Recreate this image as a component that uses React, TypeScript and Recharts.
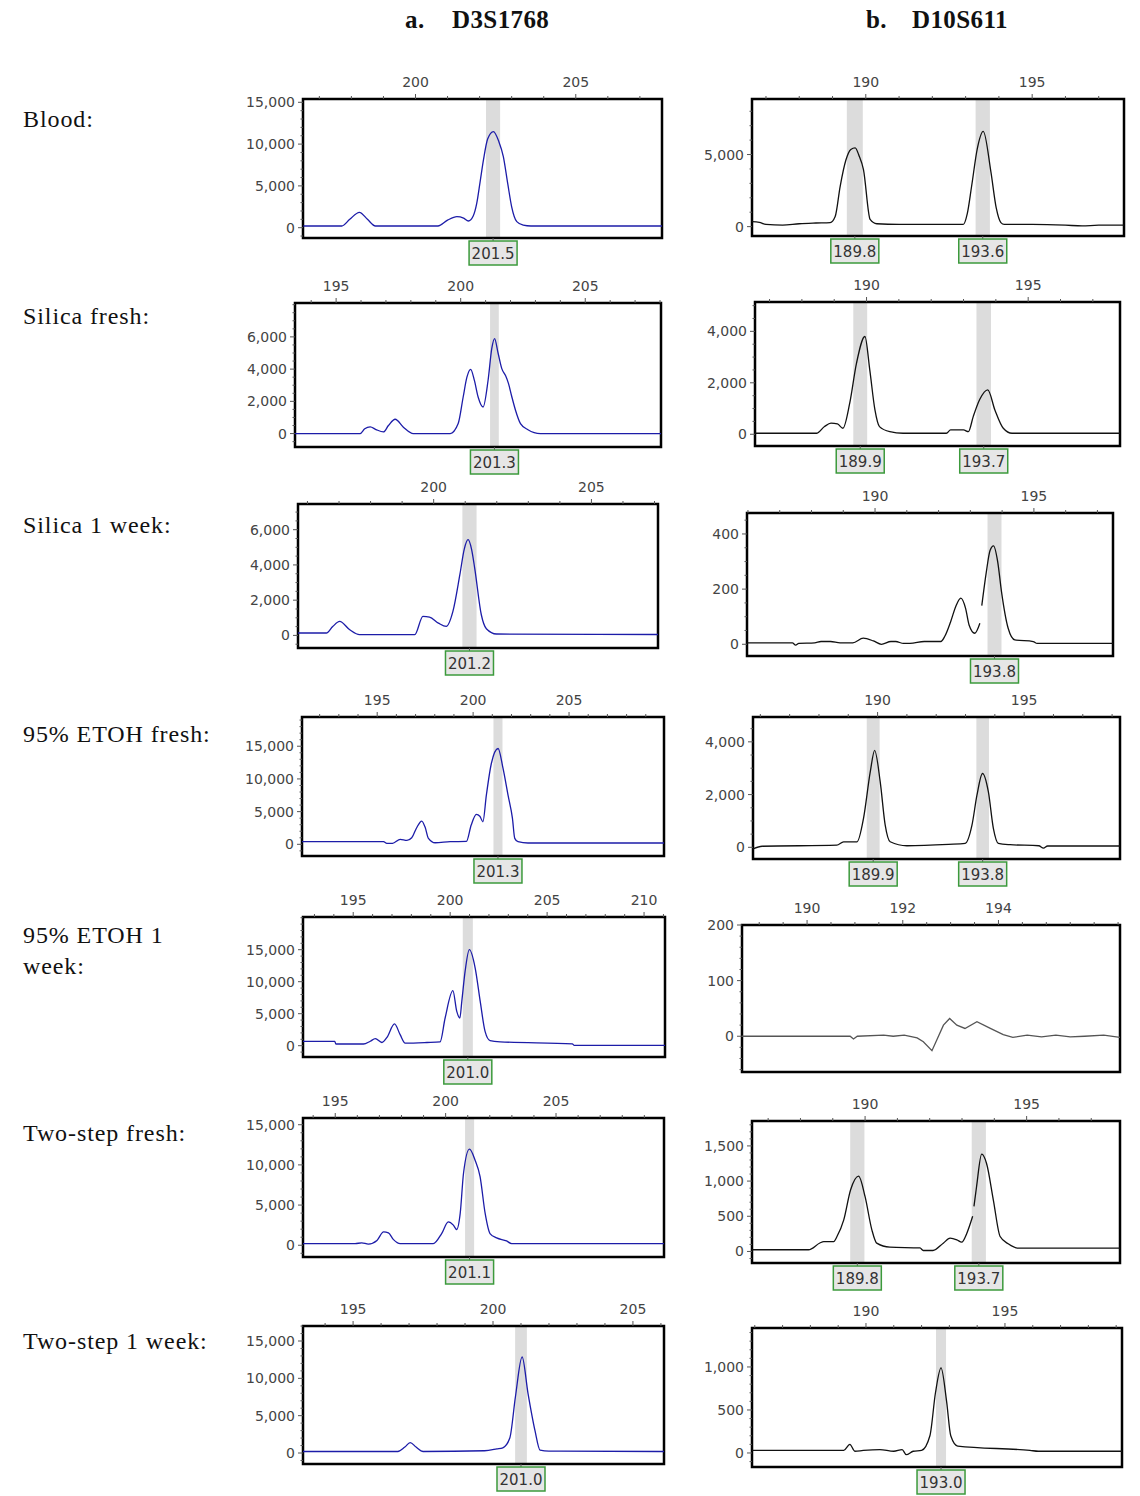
import React from 'react';
import { LineChart, Line, XAxis, YAxis, ReferenceArea, ReferenceDot } from 'recharts';

// ---------- Titles & row labels ----------
const columnTitles = [
  { letter: 'a.', marker: 'D3S1768' },
  { letter: 'b.', marker: 'D10S611' },
];
const rowLabels = ['Blood:', 'Silica fresh:', 'Silica 1 week:', '95% ETOH fresh:', '95% ETOH 1\nweek:', 'Two-step fresh:', 'Two-step 1 week:'];

// ---------- Traces (size in bp, signal in RFU) ----------
const bloodA_size = [196.5, 197.7, 197.95, 198.25, 198.5, 198.75, 200.7, 201.0, 201.29, 201.5, 201.65, 201.8, 201.91, 202.02, 202.12, 202.25, 202.43, 202.6, 202.74, 202.88, 203.0, 203.16, 203.36, 203.6, 207.7];
const bloodA_rfu = [200, 200, 1000, 1840, 1000, 200, 200, 900, 1320, 1150, 800, 1400, 2900, 5600, 8100, 10600, 11490, 10300, 8500, 5200, 2500, 720, 300, 200, 200];

const bloodB_size = [186.58, 186.8, 187.0, 187.5, 188.0, 188.5, 188.93, 189.08, 189.23, 189.4, 189.55, 189.68, 189.8, 189.93, 190.13, 190.33, 191.0, 192.0, 192.93, 193.05, 193.18, 193.35, 193.53, 193.76, 193.92, 194.06, 194.16, 195.0, 196.0, 196.5, 197.0, 197.76];
const bloodB_rfu = [350, 300, 150, 100, 200, 250, 280, 700, 2800, 4600, 5350, 5463, 4900, 3960, 500, 200, 150, 150, 150, 900, 2800, 5400, 6611, 3800, 1300, 280, 150, 150, 100, 50, 100, 100];

const silicaFreshA_size = [193.35, 195.96, 196.15, 196.37, 196.6, 196.9, 197.1, 197.37, 197.7, 198.1, 199.58, 199.9, 200.1, 200.25, 200.4, 200.55, 200.7, 200.9, 201.1, 201.25, 201.36, 201.5, 201.65, 201.8, 201.92, 202.05, 202.2, 202.4, 202.7, 203.2, 208.04];
const silicaFreshA_rfu = [0, 0, 300, 414, 250, 100, 500, 890, 400, 0, 0, 620, 2270, 3500, 3990, 3300, 2270, 1650, 3310, 5300, 5895, 5000, 4030, 3600, 3100, 2300, 1450, 620, 240, 0, 0];

const silicaFreshB_size = [186.55, 188.45, 188.7, 188.9, 189.1, 189.27, 189.48, 189.69, 189.95, 190.1, 190.26, 190.4, 190.72, 191.13, 192.47, 192.6, 193.0, 193.15, 193.3, 193.5, 193.75, 193.97, 194.23, 194.5, 197.84];
const silicaFreshB_rfu = [40, 40, 300, 430, 400, 234, 1207, 2765, 3800, 2504, 946, 296, 100, 40, 40, 167, 167, 100, 686, 1350, 1726, 946, 234, 40, 40];

const silicaWeekA_size = [195.7, 196.6, 196.8, 197.02, 197.34, 197.65, 199.4, 199.66, 199.87, 200.15, 200.4, 200.61, 200.83, 200.97, 201.09, 201.2, 201.3, 201.51, 201.67, 201.99, 207.11];
const silicaWeekA_rfu = [136, 136, 500, 795, 323, 40, 40, 1079, 1040, 700, 511, 1362, 3445, 4900, 5432, 4900, 3822, 1173, 380, 80, 50];

const silicaWeekB_size = [185.97, 187.4, 187.5, 187.6, 188.1, 188.3, 188.6, 188.9, 189.3, 189.63, 189.95, 190.2, 190.5, 190.65, 190.9, 191.1, 191.55, 191.9, 192.07, 192.2, 192.38, 192.55, 192.7, 192.85, 192.96, 193.14, 193.3, 193.33, 193.36, 193.5, 193.62, 193.73, 193.86, 193.98, 194.19, 194.4, 194.98, 195.1, 197.49];
const silicaWeekB_rfu = [5, 5, -3, 3, 5, 10, 10, 5, 5, 22, 12, 0, 10, 10, 3, 3, 10, 10, 10, 30, 82, 140, 167, 130, 70, 40, 76, null, 140, 260, 340, 357, 300, 191, 58, 16, 10, 3, 3];

const etohFreshA_size = [191.08, 195.33, 195.5, 195.8, 196.2, 196.55, 196.8, 197.05, 197.32, 197.5, 197.67, 198.02, 198.8, 199.65, 199.9, 200.17, 200.35, 200.51, 200.69, 200.95, 201.3, 201.56, 201.82, 202.05, 202.17, 202.34, 202.86, 209.95];
const etohFreshA_rfu = [400, 400, 150, 150, 760, 600, 1000, 2500, 3560, 2600, 915, 240, 400, 450, 2950, 4580, 4300, 3450, 7520, 12360, 14650, 11600, 7520, 3970, 915, 400, 200, 200];

const etohFreshB_size = [185.75, 186.06, 188.61, 188.84, 189.3, 189.52, 189.75, 189.9, 190.09, 190.26, 190.43, 191.0, 192.42, 192.99, 193.22, 193.39, 193.58, 193.78, 193.95, 194.12, 194.52, 195.5, 195.66, 195.8, 198.27];
const etohFreshB_rfu = [-60, 40, 80, 210, 210, 1100, 2860, 3680, 2480, 840, 210, 60, 113, 150, 840, 1975, 2800, 2100, 720, 150, 100, 60, -30, 50, 50];

const etohWeekA_size = [192.41, 194.05, 194.1, 195.53, 195.88, 196.14, 196.48, 196.74, 197.13, 197.42, 197.68, 198.8, 199.48, 199.74, 200.14, 200.34, 200.5, 200.6, 200.77, 200.99, 201.29, 201.55, 201.8, 202.06, 202.58, 206.3, 206.4, 211.08];
const etohWeekA_rfu = [670, 670, 265, 265, 700, 1090, 500, 1300, 3400, 1720, 400, 500, 600, 4330, 8590, 5360, 4330, 6920, 11600, 15000, 12140, 6920, 2230, 780, 600, 300, 50, 50];

const etohWeekB_size = [188.64, 190.9, 190.97, 191.05, 191.6, 191.8, 192.03, 192.3, 192.43, 192.61, 192.85, 192.98, 193.13, 193.3, 193.55, 193.83, 194.1, 194.3, 194.6, 194.9, 195.2, 195.5, 195.8, 196.2, 196.54];
const etohWeekB_rfu = [0, 0, -5, 0, 2, 0, 2, -3, -10, -26, 20, 32, 20, 14, 26, 14, 3, -2, 2, -1, 2, -1, 0, 2, -2];

const twoStepFreshA_size = [193.54, 195.9, 196.2, 196.5, 196.89, 197.19, 197.41, 197.64, 197.94, 199.44, 199.82, 200.12, 200.35, 200.5, 200.66, 200.81, 201.08, 201.33, 201.56, 201.79, 202.01, 202.31, 202.76, 202.99, 209.89];
const twoStepFreshA_rfu = [200, 200, 300, 150, 600, 1660, 1540, 700, 200, 200, 1460, 2910, 2500, 1960, 3960, 8960, 11960, 10620, 8540, 3960, 1460, 920, 540, 200, 200];

const twoStepFreshB_size = [186.5, 188.25, 188.6, 188.72, 189.03, 189.13, 189.34, 189.55, 189.8, 190.0, 190.21, 190.36, 190.77, 191.7, 191.8, 192.1, 192.42, 192.63, 192.84, 192.99, 193.15, 193.33, 193.35, 193.37, 193.45, 193.61, 193.76, 193.97, 194.18, 194.43, 194.74, 197.89];
const twoStepFreshB_rfu = [24, 24, 120, 141, 141, 212, 448, 873, 1071, 778, 307, 118, 61, 50, 14, 14, 118, 189, 165, 132, 260, 500, null, 640, 920, 1382, 1250, 731, 212, 109, 47, 47];

const twoStepWeekA_size = [193.21, 196.6, 196.85, 197.04, 197.25, 197.5, 199.7, 200.14, 200.35, 200.6, 200.8, 201.04, 201.25, 201.5, 201.68, 202.0, 206.11];
const twoStepWeekA_rfu = [200, 200, 800, 1400, 800, 200, 300, 550, 700, 2000, 7500, 12860, 8000, 3000, 400, 250, 200];

const twoStepWeekB_size = [185.9, 189.2, 189.42, 189.6, 189.9, 190.5, 191.0, 191.3, 191.45, 191.7, 192.0, 192.3, 192.5, 192.7, 192.9, 193.05, 193.3, 195.9, 196.2, 199.21];
const twoStepWeekB_rfu = [30, 30, 100, 20, 30, 40, 20, 40, -20, 20, 30, 200, 700, 990, 600, 200, 80, 30, 20, 20];

// ---------- Allele calls (bin ranges in bp, called size label) ----------
const bloodA_bins = [{ lo: 202.2, hi: 202.64, label: '201.5' }];
const bloodB_bins = [{ lo: 189.43, hi: 189.91, label: '189.8' }, { lo: 193.3, hi: 193.73, label: '193.6' }];
const silicaFreshA_bins = [{ lo: 201.18, hi: 201.53, label: '201.3' }];
const silicaFreshB_bins = [{ lo: 189.59, hi: 190.02, label: '189.9' }, { lo: 193.4, hi: 193.85, label: '193.7' }];
const silicaWeekA_bins = [{ lo: 200.91, hi: 201.36, label: '201.2' }];
const silicaWeekB_bins = [{ lo: 193.54, hi: 193.98, label: '193.8' }];
const etohFreshA_bins = [{ lo: 201.06, hi: 201.53, label: '201.3' }];
const etohFreshB_bins = [{ lo: 189.63, hi: 190.07, label: '189.9' }, { lo: 193.37, hi: 193.8, label: '193.8' }];
const etohWeekA_bins = [{ lo: 200.65, hi: 201.17, label: '201.0' }];
const etohWeekB_bins: { lo: number; hi: number; label: string }[] = [];
const twoStepFreshA_bins = [{ lo: 200.88, hi: 201.29, label: '201.1' }];
const twoStepFreshB_bins = [{ lo: 189.54, hi: 189.98, label: '189.8' }, { lo: 193.3, hi: 193.74, label: '193.7' }];
const twoStepWeekA_bins = [{ lo: 200.79, hi: 201.21, label: '201.0' }];
const twoStepWeekB_bins = [{ lo: 192.52, hi: 192.88, label: '193.0' }];

// ---------- Axis tick labels ----------
const xLabelsA1 = [200, 205];
const xLabelsA2 = [195, 200, 205];
const xLabelsA5 = [195, 200, 205, 210];
const xLabelsB = [190, 195];
const xLabelsB5 = [190, 192, 194];
const yLabels15k = [0, 5000, 10000, 15000];
const yLabels6k = [0, 2000, 4000, 6000];
const yLabels4k = [0, 2000, 4000];
const yLabels5k = [0, 5000];
const yLabels400 = [0, 200, 400];
const yLabels200 = [0, 100, 200];
const yLabels1500 = [0, 500, 1000, 1500];
const yLabels1000 = [0, 500, 1000];

const BLUE = '#1c1ca8';
const BLACK = '#111111';
const GRAY = '#555555';

type Bin = { lo: number; hi: number; label: string };
type Panel = {
  left: number; top: number; w: number; h: number;
  xDomain: [number, number]; yDomain: [number, number];
  xMajor: number[]; xMinor: number; yMajor: number[]; yMinor: number;
  sizes: number[]; values: (number | null)[]; bins: Bin[];
  color: string; curve: 'monotone' | 'linear';
};

const panels: Panel[] = [
  { left: 303, top: 99, w: 359, h: 139, xDomain: [196.49, 207.69], yDomain: [-1233, 15395], xMajor: xLabelsA1, xMinor: 1, yMajor: yLabels15k, yMinor: 1000, sizes: bloodA_size, values: bloodA_rfu, bins: bloodA_bins, color: BLUE, curve: 'monotone' },
  { left: 752, top: 99, w: 372, h: 137, xDomain: [186.58, 197.76], yDomain: [-650, 8852], xMajor: xLabelsB, xMinor: 1, yMajor: yLabels5k, yMinor: 1000, sizes: bloodB_size, values: bloodB_rfu, bins: bloodB_bins, color: BLACK, curve: 'monotone' },
  { left: 295, top: 303, w: 366, h: 144, xDomain: [193.35, 208.04], yDomain: [-833, 8103], xMajor: xLabelsA2, xMinor: 1, yMajor: yLabels6k, yMinor: 500, sizes: silicaFreshA_size, values: silicaFreshA_rfu, bins: silicaFreshA_bins, color: BLUE, curve: 'monotone' },
  { left: 755, top: 302, w: 365, h: 144, xDomain: [186.55, 197.84], yDomain: [-456, 5141], xMajor: xLabelsB, xMinor: 1, yMajor: yLabels4k, yMinor: 500, sizes: silicaFreshB_size, values: silicaFreshB_rfu, bins: silicaFreshB_bins, color: BLACK, curve: 'monotone' },
  { left: 298, top: 504, w: 360, h: 144, xDomain: [195.7, 207.11], yDomain: [-715, 7459], xMajor: xLabelsA1, xMinor: 1, yMajor: yLabels6k, yMinor: 500, sizes: silicaWeekA_size, values: silicaWeekA_rfu, bins: silicaWeekA_bins, color: BLUE, curve: 'monotone' },
  { left: 747, top: 513, w: 366, h: 143, xDomain: [185.97, 197.49], yDomain: [-42.5, 476], xMajor: xLabelsB, xMinor: 1, yMajor: yLabels400, yMinor: 50, sizes: silicaWeekB_size, values: silicaWeekB_rfu, bins: silicaWeekB_bins, color: BLACK, curve: 'monotone' },
  { left: 302, top: 717, w: 362, h: 139, xDomain: [191.08, 209.95], yDomain: [-1785, 19470], xMajor: xLabelsA2, xMinor: 1, yMajor: yLabels15k, yMinor: 1000, sizes: etohFreshA_size, values: etohFreshA_rfu, bins: etohFreshA_bins, color: BLUE, curve: 'monotone' },
  { left: 753, top: 717, w: 367, h: 142, xDomain: [185.75, 198.27], yDomain: [-443, 4942], xMajor: xLabelsB, xMinor: 1, yMajor: yLabels4k, yMinor: 500, sizes: etohFreshB_size, values: etohFreshB_rfu, bins: etohFreshB_bins, color: BLACK, curve: 'monotone' },
  { left: 303, top: 917, w: 362, h: 140, xDomain: [192.41, 211.08], yDomain: [-1766, 20110], xMajor: xLabelsA5, xMinor: 1, yMajor: yLabels15k, yMinor: 1000, sizes: etohWeekA_size, values: etohWeekA_rfu, bins: etohWeekA_bins, color: BLUE, curve: 'monotone' },
  { left: 742, top: 925, w: 378, h: 147, xDomain: [188.64, 196.54], yDomain: [-64.3, 200], xMajor: xLabelsB5, xMinor: 0.5, yMajor: yLabels200, yMinor: 20, sizes: etohWeekB_size, values: etohWeekB_rfu, bins: etohWeekB_bins, color: GRAY, curve: 'linear' },
  { left: 303, top: 1118, w: 361, h: 139, xDomain: [193.54, 209.89], yDomain: [-1462, 15837], xMajor: xLabelsA2, xMinor: 1, yMajor: yLabels15k, yMinor: 1000, sizes: twoStepFreshA_size, values: twoStepFreshA_rfu, bins: twoStepFreshA_bins, color: BLUE, curve: 'monotone' },
  { left: 752, top: 1121, w: 368, h: 142, xDomain: [186.5, 197.89], yDomain: [-164, 1854], xMajor: xLabelsB, xMinor: 1, yMajor: yLabels1500, yMinor: 100, sizes: twoStepFreshB_size, values: twoStepFreshB_rfu, bins: twoStepFreshB_bins, color: BLACK, curve: 'monotone' },
  { left: 303, top: 1326, w: 361, h: 138, xDomain: [193.21, 206.11], yDomain: [-1473, 17009], xMajor: xLabelsA2, xMinor: 1, yMajor: yLabels15k, yMinor: 1000, sizes: twoStepWeekA_size, values: twoStepWeekA_rfu, bins: twoStepWeekA_bins, color: BLUE, curve: 'monotone' },
  { left: 752, top: 1328, w: 370, h: 139, xDomain: [185.9, 199.21], yDomain: [-163, 1453], xMajor: xLabelsB, xMinor: 1, yMajor: yLabels1000, yMinor: 100, sizes: twoStepWeekB_size, values: twoStepWeekB_rfu, bins: twoStepWeekB_bins, color: BLACK, curve: 'monotone' },
];

const rowLabelTops = [119, 316, 525, 734, 935, 1133, 1341];

const TICK_FONT = '"DejaVu Sans", Verdana, sans-serif';
const TICK_COLOR = '#444';

function tickList(domain: [number, number], step: number): number[] {
  const out: number[] = [];
  const start = Math.ceil(domain[0] / step - 1e-9);
  const end = Math.floor(domain[1] / step + 1e-9);
  for (let i = start; i <= end; i++) out.push(Math.round(i * step * 1000) / 1000 + 0);
  return out;
}

const isMajor = (v: number, majors: number[]) => majors.some((m) => Math.abs(m - v) < 1e-6);

function renderXTick(p: any, majors: number[]) {
  const { x, y, payload } = p;
  const major = isMajor(payload.value, majors);
  return (
    <g>
      <line x1={x} x2={x} y1={y} y2={y - (major ? 5 : 3)} stroke="#555" strokeWidth={1} />
      {major && (
        <text x={x} y={y - 12} textAnchor="middle" fontFamily={TICK_FONT} fontSize={14} fill={TICK_COLOR}>
          {payload.value}
        </text>
      )}
    </g>
  );
}

function renderYTick(p: any, majors: number[]) {
  const { x, y, payload } = p;
  const major = isMajor(payload.value, majors);
  const v = Math.abs(payload.value) < 1e-9 ? 0 : Number(payload.value);
  return (
    <g>
      <line x1={x} x2={x - (major ? 5 : 2.5)} y1={y} y2={y} stroke="#555" strokeWidth={1} />
      {major && (
        <text x={x - 8} y={y + 5} textAnchor="end" fontFamily={TICK_FONT} fontSize={14} fill={TICK_COLOR}>
          {v.toLocaleString('en-US')}
        </text>
      )}
    </g>
  );
}

function CallBox(props: any) {
  const { cx, cy, label } = props;
  const w = 48;
  const h = 24;
  return (
    <g>
      <line x1={cx} x2={cx} y1={cy} y2={cy + 3} stroke="#555" />
      <rect x={cx - w / 2} y={cy + 3} width={w} height={h} fill="#e6e6e6" stroke="#3c9a3c" strokeWidth={1.5} />
      <text x={cx} y={cy + 3 + h / 2 + 5.5} textAnchor="middle" fontFamily={TICK_FONT} fontSize={15} fill="#333">
        {label}
      </text>
    </g>
  );
}

const ML = 80;
const MT = 30;
const MR = 10;
const MB = 40;

function Trace({ panel }: { panel: Panel }) {
  const data = panel.sizes.map((s, i) => ({ s, v: panel.values[i] }));
  const xt = tickList(panel.xDomain, panel.xMinor);
  const yt = tickList(panel.yDomain, panel.yMinor);
  return (
    <div style={{ position: 'absolute', left: panel.left - ML, top: panel.top - MT }}>
      <LineChart width={ML + panel.w + MR} height={MT + panel.h + MB} data={data} margin={{ top: 0, right: MR, bottom: MB, left: 20 }}>
        <XAxis
          dataKey="s"
          type="number"
          orientation="top"
          domain={panel.xDomain}
          allowDataOverflow
          ticks={xt}
          interval={0}
          height={MT}
          axisLine={false}
          tickLine={false}
          tickSize={0}
          tickMargin={0}
          tick={(p: any) => renderXTick(p, panel.xMajor)}
        />
        <YAxis
          type="number"
          domain={panel.yDomain}
          allowDataOverflow
          ticks={yt}
          interval={0}
          width={60}
          axisLine={false}
          tickLine={false}
          tickSize={0}
          tickMargin={0}
          tick={(p: any) => renderYTick(p, panel.yMajor)}
        />
        {panel.bins.map((b, i) => (
          <ReferenceArea key={'bin' + i} x1={b.lo} x2={b.hi} y1={panel.yDomain[0]} y2={panel.yDomain[1]} fill="#dcdcdc" fillOpacity={1} stroke="none" ifOverflow="visible" />
        ))}
        <Line
          type={panel.curve}
          dataKey="v"
          stroke={panel.color}
          strokeWidth={1.3}
          dot={false}
          activeDot={false}
          connectNulls={false}
          isAnimationActive={false}
        />
        <ReferenceArea
          x1={panel.xDomain[0]}
          x2={panel.xDomain[1]}
          y1={panel.yDomain[0]}
          y2={panel.yDomain[1]}
          fill="none"
          stroke="#000"
          strokeWidth={2.5}
          ifOverflow="visible"
        />
        {panel.bins.map((b, i) => (
          <ReferenceDot
            key={'call' + i}
            x={(b.lo + b.hi) / 2}
            y={panel.yDomain[0]}
            r={0}
            ifOverflow="visible"
            shape={(p: any) => <CallBox cx={p.cx} cy={p.cy} label={b.label} />}
          />
        ))}
      </LineChart>
    </div>
  );
}

export default function App() {
  const serif = '"Liberation Serif", "Times New Roman", serif';
  const titleStyle: React.CSSProperties = { position: 'absolute', top: 5, fontFamily: serif, fontWeight: 'bold', fontSize: 25, lineHeight: '30px', whiteSpace: 'pre', color: '#111', letterSpacing: 0.4 };
  return (
    <div style={{ position: 'absolute', left: 0, top: 0, width: 1140, height: 1496, background: '#fff', overflow: 'hidden' }}>
      {/* column titles */}
      <div style={{ ...titleStyle, left: 405 }}>{columnTitles[0].letter}</div>
      <div style={{ ...titleStyle, left: 452 }}>{columnTitles[0].marker}</div>
      <div style={{ ...titleStyle, left: 866 }}>{columnTitles[1].letter}</div>
      <div style={{ ...titleStyle, left: 912 }}>{columnTitles[1].marker}</div>
      {/* row labels */}
      {rowLabels.map((t, i) => (
        <div
          key={i}
          style={{ position: 'absolute', left: 23, top: rowLabelTops[i] - 15, fontFamily: serif, fontSize: 24, lineHeight: '31px', whiteSpace: 'pre', color: '#111', letterSpacing: 0.9 }}
        >
          {t}
        </div>
      ))}
      {panels.map((p, i) => (
        <Trace key={i} panel={p} />
      ))}
    </div>
  );
}
